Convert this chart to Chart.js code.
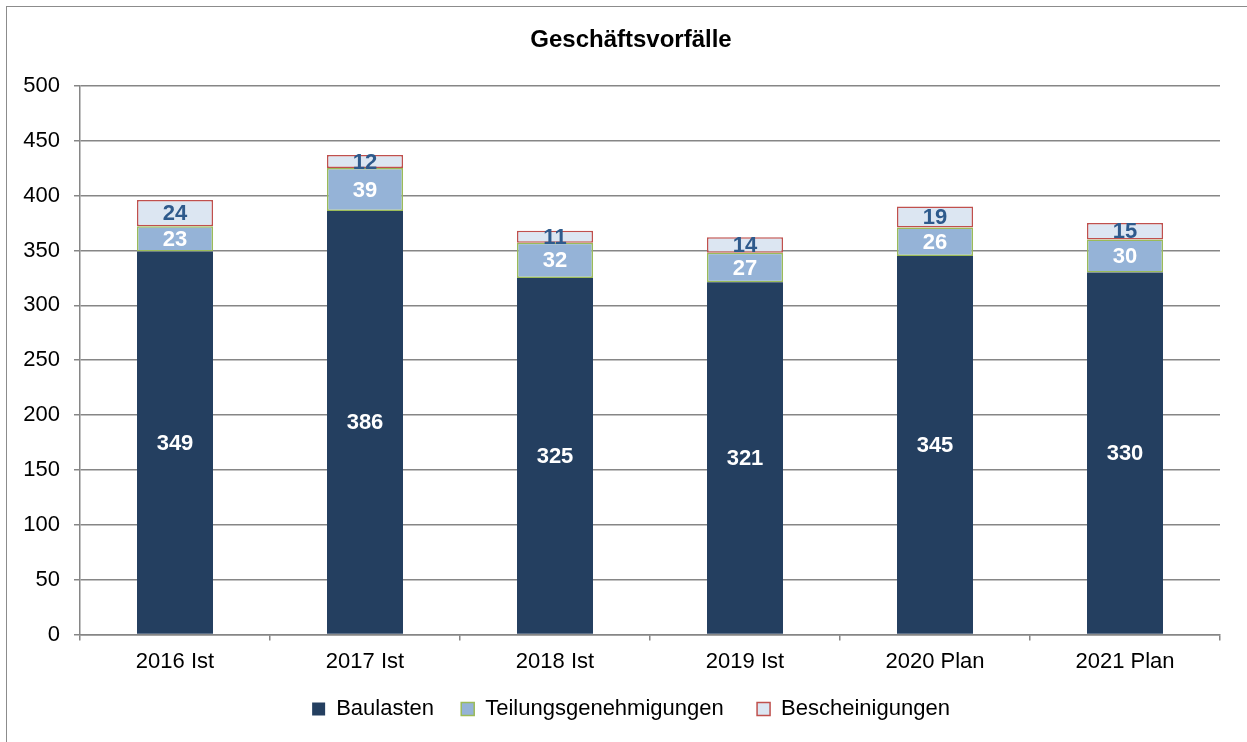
<!DOCTYPE html>
<html>
<head>
<meta charset="utf-8">
<script src="https://cdn.jsdelivr.net/npm/chart.js@4"></script>
<style>
  body { margin: 0; background: #fff; overflow: hidden; }
  #wrap { position: relative; width: 1247px; height: 742px; }
  #frame { position: absolute; left: 6px; top: 6px; width: 1260px; height: 760px; border: 1.5px solid #8c8c8c; box-sizing: border-box; }
  canvas { position: absolute; left: 0; top: 0; }
</style>
</head>
<body>
<div id="wrap">
  <div id="frame"></div>
  <canvas id="chart" width="1247" height="742"></canvas>
</div>
<script>
// Daten
const categories = ['2016 Ist', '2017 Ist', '2018 Ist', '2019 Ist', '2020 Plan', '2021 Plan'];
const baulasten = [349, 386, 325, 321, 345, 330];
const teilungsgenehmigungen = [23, 39, 32, 27, 26, 30];
const bescheinigungen = [24, 12, 11, 14, 19, 15];
const yTicks = [0, 50, 100, 150, 200, 250, 300, 350, 400, 450, 500];

const fontFamily = '"Liberation Sans", Arial, sans-serif';
const labelColors = ['#ffffff', '#ffffff', '#2e5a8c'];

// Werte in die Balken schreiben
const valueLabels = {
  id: 'valueLabels',
  afterDatasetsDraw(chart) {
    const ctx = chart.ctx;
    ctx.save();
    ctx.font = 'bold 22px ' + fontFamily;
    ctx.textAlign = 'center';
    ctx.textBaseline = 'middle';
    chart.data.datasets.forEach((ds, i) => {
      const meta = chart.getDatasetMeta(i);
      meta.data.forEach((bar, j) => {
        const p = bar.getProps(['x', 'y', 'base'], true);
        ctx.fillStyle = labelColors[i];
        ctx.fillText(ds.data[j], p.x, (p.y + p.base) / 2 + 1);
      });
    });
    ctx.restore();
  }
};

new Chart(document.getElementById('chart'), {
  type: 'bar',
  data: {
    labels: categories,
    datasets: [{
      label: 'Baulasten  ',
      data: baulasten,
      backgroundColor: '#243f60',
      borderColor: '#243f60',
      borderWidth: 0
    }, {
      label: 'Teilungsgenehmigungen   ',
      data: teilungsgenehmigungen,
      backgroundColor: '#95b3d7',
      borderColor: '#9bbb59',
      borderWidth: 1.5,
      borderSkipped: false
    }, {
      label: 'Bescheinigungen',
      data: bescheinigungen,
      backgroundColor: '#dce6f2',
      borderColor: '#c0504d',
      borderWidth: 1.5,
      borderSkipped: false
    }]
  },
  options: {
    responsive: false,
    animation: false,
    datasets: {
      bar: { barPercentage: 0.4, categoryPercentage: 1.0 }
    },
    layout: { padding: { left: 20, right: 5, top: 20, bottom: 12 } },
    plugins: {
      title: {
        display: true,
        text: 'Geschäftsvorfälle',
        color: '#000',
        font: { family: fontFamily, size: 24, weight: 'bold' },
        padding: { top: 6, bottom: 31 }
      },
      legend: {
        position: 'bottom',
        labels: {
          color: '#000',
          font: { family: fontFamily, size: 22 },
          boxWidth: 13,
          boxHeight: 13,
          padding: 15
        }
      },
      tooltip: { enabled: false }
    },
    scales: {
      x: {
        stacked: true,
        grid: { display: true, offset: true, drawOnChartArea: false, drawTicks: true, tickLength: 6, color: '#868686', lineWidth: 1.5 },
        border: { color: '#868686', width: 1.5 },
        ticks: { color: '#000', font: { family: fontFamily, size: 22 }, padding: 8 }
      },
      y: {
        stacked: true,
        min: 0,
        max: 500,
        afterBuildTicks(axis) { axis.ticks = yTicks.map(v => ({ value: v })); },
        afterFit(axis) { axis.width = 60; },
        grid: { color: '#868686', lineWidth: 1.5, tickLength: 6 },
        border: { color: '#868686', width: 1.5 },
        ticks: { color: '#000', font: { family: fontFamily, size: 22 }, padding: 14 }
      },
      // leere Achse rechts, nur als Abstand
      yRight: {
        type: 'linear',
        position: 'right',
        min: 0,
        max: 500,
        afterFit(axis) { axis.width = 22; },
        grid: { display: false },
        border: { display: false },
        ticks: { display: false }
      }
    }
  },
  plugins: [valueLabels]
});
</script>
</body>
</html>
